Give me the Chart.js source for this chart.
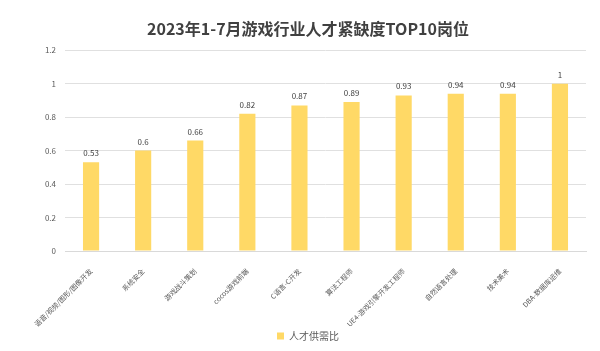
<!DOCTYPE html>
<html><head><meta charset="utf-8">
<script src="https://cdn.jsdelivr.net/npm/chart.js@4"></script>
<style>html,body{margin:0;padding:0;background:#fff}#wrap{width:600px;height:351px}</style>
</head><body><div id="wrap"><canvas id="c"></canvas></div>
<script>
// data
const jobs=['语音/视频/图形/图像开发','系统安全','游戏战斗策划','cocos游戏前端','C语言-C开发','算法工程师','UE4-游戏引擎开发工程师','自然语言处理','技术美术','DBA-数据库运维'];
const ratio=[0.53,0.6,0.66,0.82,0.87,0.89,0.93,0.94,0.94,1];
const yTicks=[0,0.2,0.4,0.6,0.8,1,1.2];
const FONT='"Noto Sans CJK SC", "Noto Sans", sans-serif';

// draw value above each bar
const valueLabels={id:'valueLabels',afterDatasetsDraw(chart){
  const ctx=chart.ctx, meta=chart.getDatasetMeta(0);
  ctx.save();ctx.font='8px '+FONT;ctx.fillStyle='#404040';ctx.textAlign='center';ctx.textBaseline='bottom';
  meta.data.forEach((b,i)=>ctx.fillText(String(ratio[i]),b.x,b.y-5));
  ctx.restore();
}};

new Chart(document.getElementById('c'),{
  type:'bar',
  data:{labels:jobs,datasets:[{label:'人才供需比',data:ratio,backgroundColor:'#FFD966',barPercentage:0.31,categoryPercentage:1}]},
  options:{responsive:true,maintainAspectRatio:false,animation:false,
    layout:{padding:{left:30,right:14,top:0,bottom:0}},
    plugins:{
      title:{display:true,text:'2023年1-7月游戏行业人才紧缺度TOP10岗位',color:'#404040',font:{family:FONT,size:16,weight:'bold'},padding:{top:19,bottom:12}},
      legend:{position:'bottom',labels:{color:'#595959',font:{family:FONT,size:10},boxWidth:7,boxHeight:7,padding:2}},
      tooltip:{enabled:false}
    },
    scales:{
      x:{grid:{display:false},border:{color:'#d9d9d9'},
        afterFit(s){s.paddingLeft=0;s.paddingRight=0;s.height=78;},
        ticks:{color:'#595959',font:{family:FONT,size:7},minRotation:45,maxRotation:45,autoSkip:false,padding:8}},
      y:{min:0,max:1.2,afterBuildTicks(s){s.ticks=yTicks.map(v=>({value:v}));},
        afterFit(s){s.width=35;},
        grid:{color:'#e0e0e0',drawTicks:false},border:{display:false},
        ticks:{color:'#595959',font:{family:FONT,size:8},padding:9,callback:v=>String(v)}}
    }
  },
  plugins:[valueLabels]
});
</script></body></html>
